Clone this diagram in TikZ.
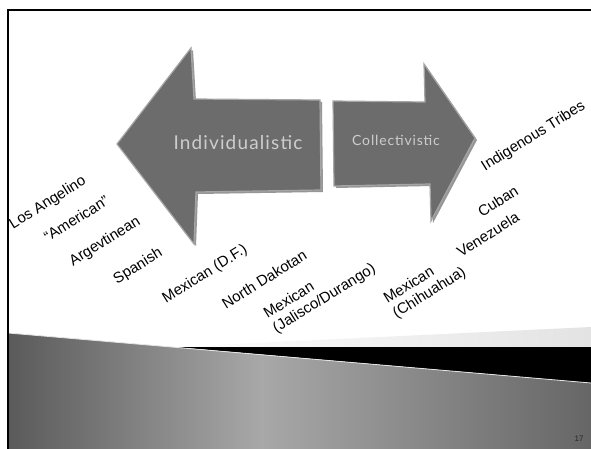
\documentclass[tikz,border=0pt]{standalone}
\usepackage{fontspec}
\setmainfont{Liberation Sans}
\newfontfamily\arrowfont[LetterSpace=6]{Lato}
\definecolor{arrowgray}{RGB}{108,108,108}
\definecolor{arrowrim}{RGB}{165,165,165}
\definecolor{arrowshadow}{RGB}{150,150,150}
\definecolor{arrowtext}{RGB}{205,205,205}
\definecolor{slideA}{RGB}{90,90,90}
\definecolor{slideB}{RGB}{168,168,168}
\definecolor{slideC}{RGB}{102,102,102}
\begin{document}
\begin{tikzpicture}[x=1pt,y=-1pt,
  lab/.style={font=\fontsize{15}{17}\selectfont, rotate=32, anchor=west, inner sep=0pt, align=left},
  bigarrow/.style={fill=arrowgray, draw=arrowrim, line width=1.2pt, line join=miter},
  arrowshade/.style={fill=arrowshadow},
  arrowlabel/.style={text=arrowtext, inner sep=0pt}]
\useasboundingbox (0,0) rectangle (591,449);
\fill[white] (0,0) rectangle (591,449);

% bottom decoration
\shade[left color=white, right color=gray!22] (170,347) -- (591,327) -- (591,347) -- cycle;
\fill[black] (175,347) -- (591,347) -- (591,383) -- cycle;
\begin{scope}
  \clip (8,333) -- (591,383) -- (591,449) -- (8,449) -- cycle;
  \shade[left color=slideA, right color=slideB] (8,325) rectangle (262,449);
  \shade[left color=slideB, right color=slideC] (261,325) rectangle (591,449);
\end{scope}
\draw[gray!20, line width=0.8pt] (8,333) -- (591,383);

% frame
\draw[line width=2.6pt, line cap=rect] (8,449) -- (8,10) -- (591,10);

% left arrow
\fill[arrowshade] (119,146) -- (193,50) -- (196,101) -- (322,102) -- (323,192) -- (198,194) -- (196,246) -- cycle;
\draw[bigarrow] (117,144) -- (191,48) -- (194,99) -- (320,100) -- (321,190) -- (196,192) -- (194,244) -- cycle;
% right arrow
\fill[arrowshade] (335,103) -- (427,104) -- (426,66) -- (477,140) -- (433,223) -- (432,186) -- (336,188) -- cycle;
\draw[bigarrow] (333,101) -- (425,102) -- (424,64) -- (475,138) -- (431,221) -- (430,184) -- (334,186) -- cycle;

\node[arrowlabel, font=\arrowfont\fontsize{19}{22}\selectfont] (ind) at (238,143) {Individualistic};
\node[arrowlabel, font=\arrowfont\fontsize{14}{16}\selectfont] (col) at (396,140) {Collectivistic};

% labels
\node[lab] (la) at (11,226) {Los Angelino};
\node[lab] (am) at (45,238) {“American”};
\node[lab] (ar) at (71,263) {Argevtinean};
\node[lab] (sp) at (115,281) {Spanish};
\node[lab] (mdf) at (164,300) {Mexican (D.F.)};
\node[lab] (nd) at (223,305) {North Dakotan};
\node[lab] (mjd) at (270,323) {Mexican\\(Jalisco/Durango)};
\node[lab] (mch) at (390,308) {Mexican\\(Chihuahua)};
\node[lab] (ve) at (458,253) {Venezuela};
\node[lab] (cu) at (479,213) {Cuban};
\node[lab] (it) at (483,168) {Indigenous Tribes};

\node[font=\fontsize{8}{9}\selectfont, text=black!85] (pg) at (579,439) {17};
\end{tikzpicture}
\end{document}
